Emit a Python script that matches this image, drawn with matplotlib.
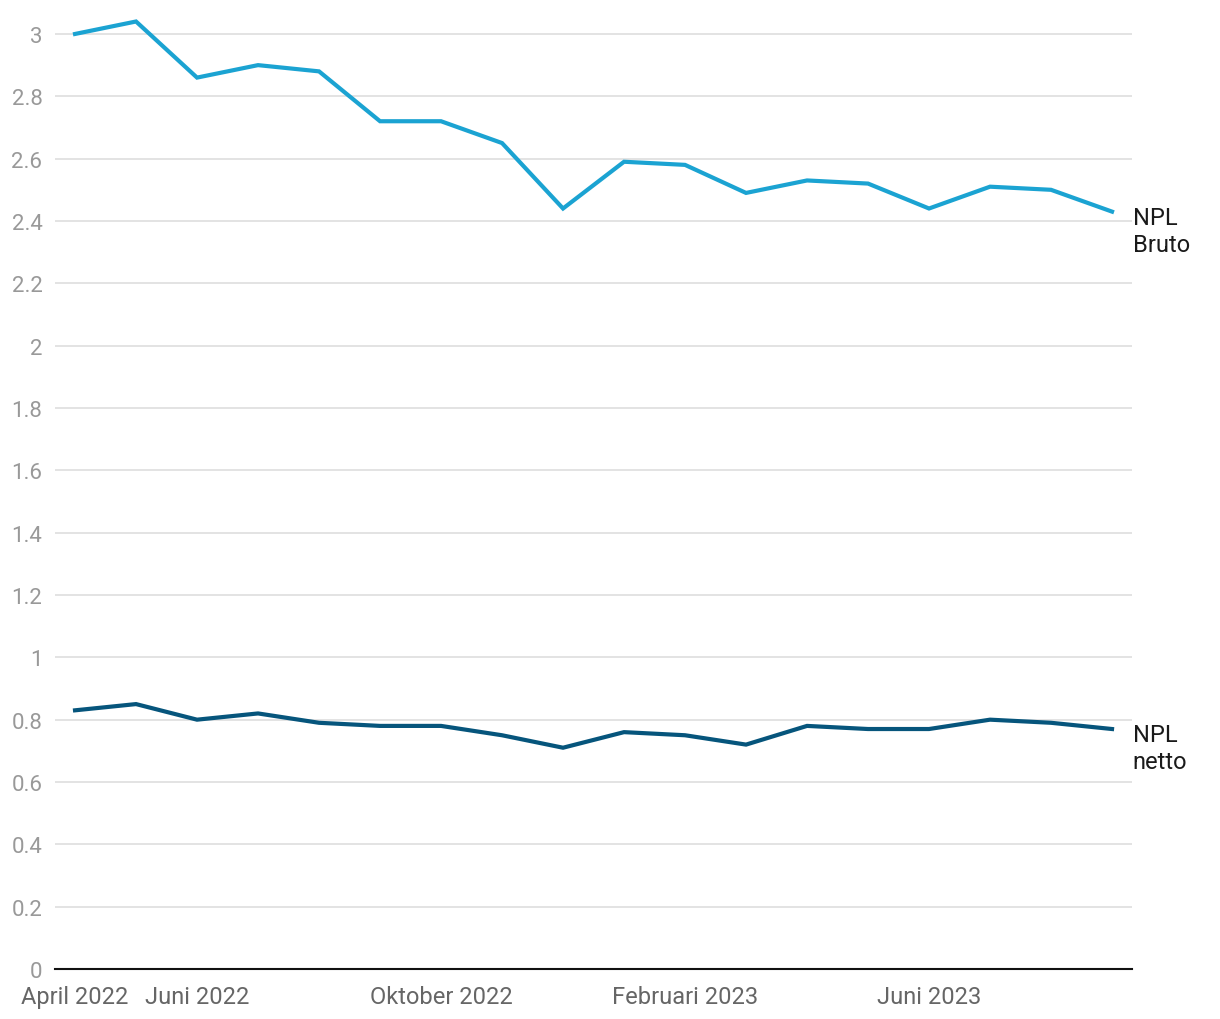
import matplotlib.pyplot as plt

# Monthly NPL ratios (%), April 2022 - September 2023
months = ['Apr 2022', 'Mei 2022', 'Jun 2022', 'Jul 2022', 'Agu 2022', 'Sep 2022',
          'Okt 2022', 'Nov 2022', 'Des 2022', 'Jan 2023', 'Feb 2023', 'Mar 2023',
          'Apr 2023', 'Mei 2023', 'Jun 2023', 'Jul 2023', 'Agu 2023', 'Sep 2023']
npl_bruto = [3.00, 3.04, 2.86, 2.90, 2.88, 2.72, 2.72, 2.65, 2.44,
             2.59, 2.58, 2.49, 2.53, 2.52, 2.44, 2.51, 2.50, 2.43]
npl_netto = [0.83, 0.85, 0.80, 0.82, 0.79, 0.78, 0.78, 0.75, 0.71,
             0.76, 0.75, 0.72, 0.78, 0.77, 0.77, 0.80, 0.79, 0.77]
tick_idx = [0, 2, 6, 10, 14]
tick_labels = ['April 2022', 'Juni 2022', 'Oktober 2022', 'Februari 2023', 'Juni 2023']
y_ticks = [0, 0.2, 0.4, 0.6, 0.8, 1, 1.2, 1.4, 1.6, 1.8, 2, 2.2, 2.4, 2.6, 2.8, 3]

plt.rcParams['font.family'] = ['Roboto', 'DejaVu Sans']

fig = plt.figure(figsize=(12.2, 10.2), dpi=100)
ax = fig.add_axes([0.045, 0.049, 0.883, 0.932])

x = list(range(len(months)))
ax.plot(x, npl_bruto, color='#1ba3d2', lw=3, solid_joinstyle='miter')
ax.plot(x, npl_netto, color='#06557c', lw=3, solid_joinstyle='miter')

ax.annotate('NPL\nBruto', xy=(x[-1], npl_bruto[-1]), xytext=(15, 4),
            textcoords='offset points', va='top', ha='left',
            fontsize=17, color='#1a1a1a', linespacing=1.2, annotation_clip=False)
ax.annotate('NPL\nnetto', xy=(x[-1], npl_netto[-1]), xytext=(15, 4),
            textcoords='offset points', va='top', ha='left',
            fontsize=17, color='#1a1a1a', linespacing=1.2, annotation_clip=False)

ax.set_xlim(-0.33, len(months) - 1 + 0.33)
ax.set_ylim(0, 3.05)
ax.set_yticks(y_ticks)
ax.set_yticklabels([f'{v:g}' for v in y_ticks])
ax.set_xticks(tick_idx)
ax.set_xticklabels(tick_labels)

ax.grid(axis='y', color='#e0e0e0', lw=1.3)
ax.set_axisbelow(True)
for s in ['top', 'right', 'left']:
    ax.spines[s].set_visible(False)
ax.spines['bottom'].set_color('#111111')
ax.spines['bottom'].set_linewidth(1.5)
ax.spines['bottom'].set_zorder(5)

ax.tick_params(axis='y', length=0, pad=9, labelsize=16, labelcolor='#999999')
ax.tick_params(axis='x', length=0, pad=11.5, labelsize=17, labelcolor='#666666')

fig.savefig('out.png', dpi=100)
plt.close(fig)
